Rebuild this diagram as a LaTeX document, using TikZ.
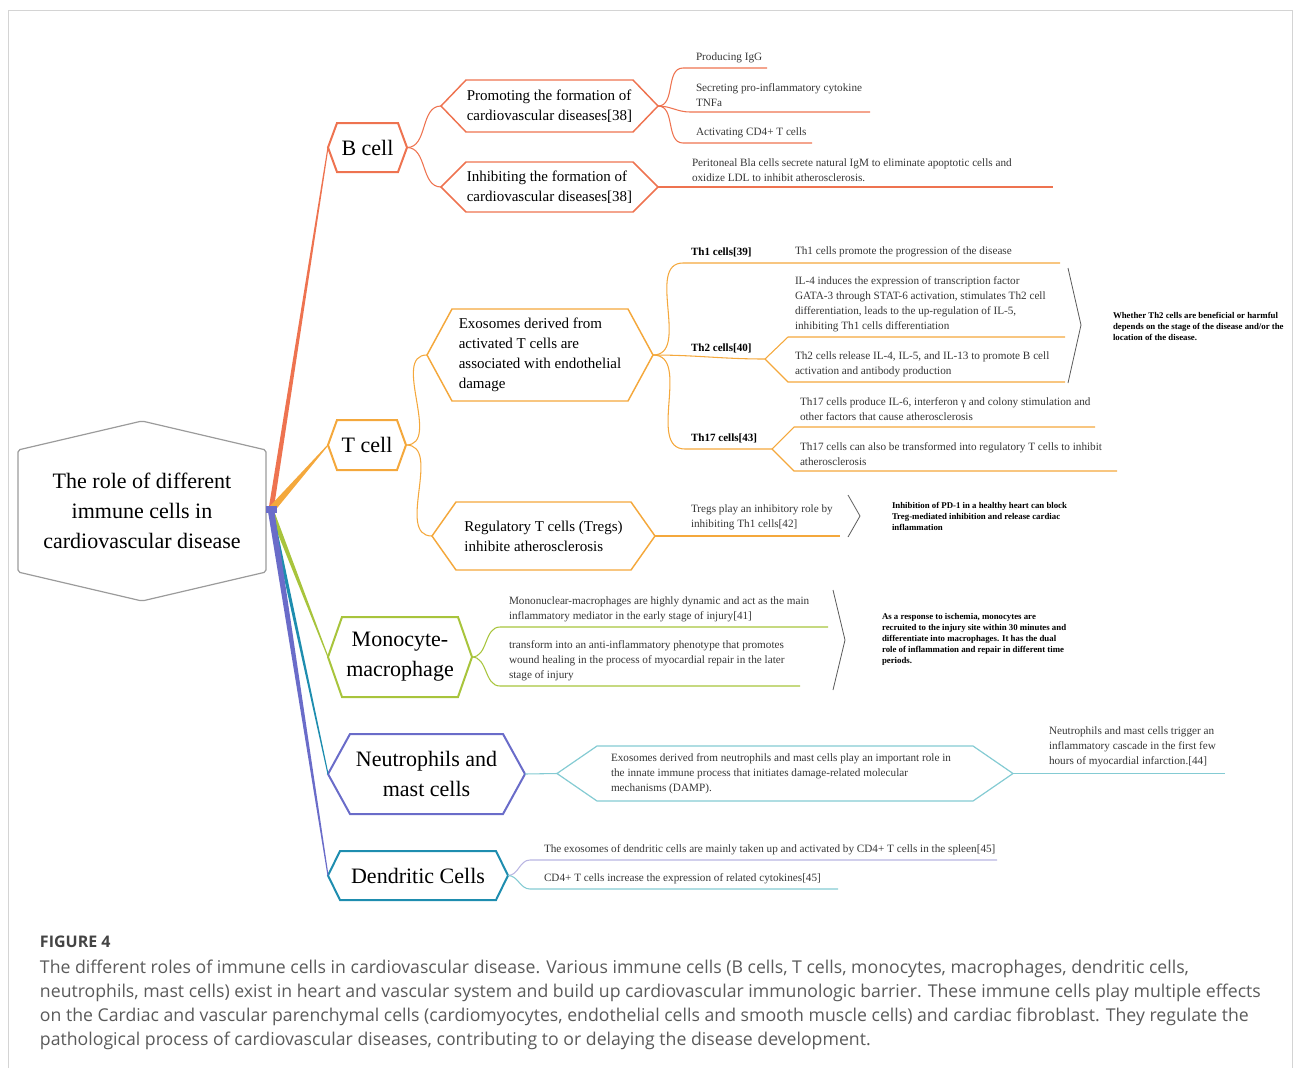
\documentclass[tikz,border=0pt]{standalone}
\usepackage{fontspec}
\setmainfont{Liberation Serif}
\newfontfamily\capfont{Open Sans}
\usetikzlibrary{calc}
\definecolor{cB}{HTML}{EE7350}
\definecolor{cT}{HTML}{F4A83C}
\definecolor{cM}{HTML}{A8C43C}
\definecolor{cN}{HTML}{6A6CC9}
\definecolor{cD}{HTML}{1E8DAF}
\definecolor{cNl}{HTML}{84CBD3}
\definecolor{cDl}{HTML}{B9B5E2}
\definecolor{cRoot}{HTML}{9B9B9B}
\definecolor{txt}{HTML}{363636}
\definecolor{framec}{HTML}{D4D4D4}
\definecolor{capc}{HTML}{5A5A5A}
\definecolor{capt}{HTML}{444444}
\newcommand{\hexdraw}[3]{\draw[#3] (#1.west) -- ([shift={(#2,0)}]#1.north west) -- ([shift={(-#2,0)}]#1.north east) -- (#1.east) -- ([shift={(-#2,0)}]#1.south east) -- ([shift={(#2,0)}]#1.south west) -- cycle;}
\newcommand{\taper}[4]{\fill[#4] ($(#1)!#3!90:(#2)$) -- ($(#2)!0.4pt!-90:(#1)$) -- ($(#2)!0.4pt!90:(#1)$) -- ($(#1)!#3!-90:(#2)$) -- cycle;}
\begin{document}
\begin{tikzpicture}[x=0.75pt,y=-0.75pt,
 every node/.style={inner sep=0pt, outer sep=0pt},
 hw/.style 2 args={minimum width=#1*0.75pt, minimum height=#2*0.75pt},
 lone/.style={font=\fontsize{16.5}{22.5}\selectfont, align=center, text=black},
 ltwo/.style={font=\fontsize{11.25}{15}\selectfont, align=left, text=black},
 lthree/.style={font=\fontsize{8.4}{11.2}\selectfont, align=left, text=txt, anchor=south west},
 lab/.style={font=\bfseries\fontsize{8.3}{10}\selectfont, text=black, anchor=south west},
 note/.style={font=\bfseries\fontsize{6.6}{8.25}\selectfont, align=left, text=black, anchor=west},
 hexone/.style={line width=1.5pt, line join=miter},
 hextwo/.style={line width=1.1pt, line join=miter},
 link/.style={line width=0.8pt},
 brace/.style={draw=black!65, line width=0.6pt},
]
\useasboundingbox (0,0) rectangle (1293,1068);
\draw[framec, line width=0.75pt] (8,1068) -- (8,10) -- (1292,10) -- (1292,1068);

% root
\node[lone, hw={248}{180}] (root) at (142,511) {The role of different\\immune cells in\\cardiovascular disease};
\draw[cRoot, line width=0.9pt, rounded corners=1.5pt] (root.north) -- ([shift={(0,29)}]root.north east) -- ([shift={(0,-29)}]root.south east) -- (root.south) -- ([shift={(0,-29)}]root.south west) -- ([shift={(0,29)}]root.north west) -- cycle;
\coordinate (hub) at (271,510);

% level 1
\node[lone, hw={79}{49}] (bcell) at (367.5,147.5) {B cell};
\node[lone, hw={78}{50}] (tcell) at (367,445) {T cell};
\node[lone, hw={144}{80}] (mono) at (400,657) {Monocyte-\\macrophage};
\node[lone, hw={197}{80}] (neut) at (426.5,774) {Neutrophils and\\mast cells};
\node[lone, hw={180}{49}] (dend) at (418,875.5) {Dendritic Cells};
\hexdraw{bcell}{9}{cB,hexone}
\hexdraw{tcell}{9}{cT,hexone}
\hexdraw{mono}{14}{cM,hexone}
\hexdraw{neut}{22}{cN,hexone}
\hexdraw{dend}{12}{cD,hexone}

% tapered main connectors
\taper{hub}{bcell.west}{1.9pt}{cB}
\taper{hub}{tcell.west}{2.6pt}{cT}
\taper{hub}{mono.west}{1.9pt}{cM}
\taper{hub}{neut.west}{1.5pt}{cD}
\taper{hub}{dend.west}{2.4pt}{cN}
\fill[cN] (266,506) rectangle (277,513);

% ---------------- B cell branch
\node[ltwo, hw={217}{52}] (prom) at (549.5,106) {Promoting the formation of\\cardiovascular diseases[38]};
\node[ltwo, hw={217}{50}] (inh) at (549.5,187) {Inhibiting the formation of\\cardiovascular diseases[38]};
\hexdraw{prom}{25}{cB,hextwo}
\hexdraw{inh}{25}{cB,hextwo}
\draw[cB,link] (bcell.east) to[out=0,in=180] (prom.west);
\draw[cB,link] (bcell.east) to[out=0,in=180] (inh.west);

\coordinate (b1s) at (683,68); \coordinate (b1e) at (767,68);
\coordinate (b2s) at (690,112); \coordinate (b2e) at (870,112);
\coordinate (b3s) at (683,143); \coordinate (b3e) at (812,143);
\coordinate (b4e) at (1053,187);
\draw[cB,link] (prom.east) to[out=0,in=180] (b1s) -- (b1e);
\draw[cB,link] (prom.east) to[out=0,in=180] (b2s) -- (b2e);
\draw[cB,link] (prom.east) to[out=0,in=180] (b3s) -- (b3e);
\draw[cB,link] (inh.east) -- (b4e);
\node[lthree] (b1t) at (696,63) {Producing IgG};
\node[lthree] (b2t) at (696,107) {Secreting pro-inflammatory cytokine\\TNFa};
\node[lthree] (b3t) at (696,138) {Activating CD4+ T cells};
\node[lthree] (b4t) at (692,182) {Peritoneal Bla cells secrete natural IgM to eliminate apoptotic cells and\\oxidize LDL to inhibit atherosclerosis.};

% ---------------- T cell branch
\node[ltwo, hw={226}{92}] (exo) at (540,355) {Exosomes derived from\\activated T cells are\\associated with endothelial\\damage};
\node[ltwo, hw={223}{68}] (treg) at (543.5,536) {Regulatory T cells (Tregs)\\inhibite atherosclerosis};
\hexdraw{exo}{25}{cT,hextwo}
\hexdraw{treg}{24}{cT,hextwo}
\draw[cT,link] (tcell.east) to[out=0,in=180] (exo.west);
\draw[cT,link] (tcell.east) to[out=0,in=180] (treg.west);

% Th1
\coordinate (h1s) at (683,263); \coordinate (h1e) at (1060,263);
\draw[cT,link] (exo.east) to[out=0,in=180] (h1s) -- (h1e);
\node[lab] (h1l) at (691,257) {Th1 cells[39]};
\node[lthree] (h1t) at (795,257) {Th1 cells promote the progression of the disease};
% Th2
\coordinate (h2m) at (765,359);
\coordinate (h2as) at (788,337); \coordinate (h2ae) at (1065,337);
\coordinate (h2bs) at (788,382); \coordinate (h2be) at (1065,382);
\draw[cT,link] (exo.east) to[out=0,in=180] (h2m);
\draw[cT,link] (h2m) -- (h2as) -- (h2ae);
\draw[cT,link] (h2m) -- (h2bs) -- (h2be);
\node[lab] (h2l) at (691,353) {Th2 cells[40]};
\node[lthree] (h2at) at (795,332) {IL-4 induces the expression of transcription factor\\GATA-3 through STAT-6 activation, stimulates Th2 cell\\differentiation, leads to the up-regulation of IL-5,\\inhibiting Th1 cells differentiation};
\node[lthree] (h2bt) at (795,377) {Th2 cells release IL-4, IL-5, and IL-13 to promote B cell\\activation and antibody production};
% Th17
\coordinate (h3s) at (685,449); \coordinate (h3m) at (772,449);
\coordinate (h3as) at (794,427); \coordinate (h3ae) at (1095,427);
\coordinate (h3bs) at (794,471); \coordinate (h3be) at (1117,471);
\draw[cT,link] (exo.east) to[out=0,in=180] (h3s) -- (h3m);
\draw[cT,link] (h3m) -- (h3as) -- (h3ae);
\draw[cT,link] (h3m) -- (h3bs) -- (h3be);
\node[lab] (h3l) at (691,443) {Th17 cells[43]};
\node[lthree] (h3at) at (800,421) {Th17 cells produce IL-6, interferon γ and colony stimulation and\\other factors that cause atherosclerosis};
\node[lthree] (h3bt) at (800,466) {Th17 cells can also be transformed into regulatory T cells to inhibit\\atherosclerosis};
% Th2 brace and note
\draw[brace] (1068,268) -- (1081,325) -- (1068,383);
\node[note] (nTh2) at (1113,326) {Whether Th2 cells are beneficial or harmful\\depends on the stage of the disease and/or the\\location of the disease.};

% Tregs
\coordinate (t4e) at (840,536);
\draw[cT,link] (treg.east) -- (t4e);
\node[lthree] (t4t) at (691,530) {Tregs play an inhibitory role by\\inhibiting Th1 cells[42]};
\draw[brace] (848,495) -- (860,516) -- (848,537);
\node[note] (nTreg) at (892,516) {Inhibition of PD-1 in a healthy heart can block\\Treg-mediated inhibition and release cardiac\\inflammation};

% ---------------- Monocyte branch
\coordinate (m1s) at (500,627); \coordinate (m1e) at (828,627);
\coordinate (m2s) at (500,686); \coordinate (m2e) at (800,686);
\draw[cM,link] (mono.east) to[out=0,in=180] (m1s) -- (m1e);
\draw[cM,link] (mono.east) to[out=0,in=180] (m2s) -- (m2e);
\node[lthree] (m1t) at (509,622) {Mononuclear-macrophages are highly dynamic and act as the main\\inflammatory mediator in the early stage of injury[41]};
\node[lthree] (m2t) at (509,681) {transform into an anti-inflammatory phenotype that promotes\\wound healing in the process of myocardial repair in the later\\stage of injury};
\draw[brace] (833,590) -- (845,640) -- (833,690);
\node[note] (nMono) at (882,639) {As a response to ischemia, monocytes are\\recruited to the injury site within 30 minutes and\\differentiate into macrophages. It has the dual\\role of inflammation and repair in different time\\periods.};

% ---------------- Neutrophils branch
\node[font=\fontsize{8.4}{11.2}\selectfont, align=left, text=txt, hw={456}{55}] (exoN) at (785,773.5) {Exosomes derived from neutrophils and mast cells play an important role in\hspace*{6pt}\\the innate immune process that initiates damage-related molecular\\mechanisms (DAMP).};
\hexdraw{exoN}{40}{cNl,line width=0.9pt}
\draw[cNl,link] (neut.east) -- (exoN.west);
\coordinate (n2e) at (1225,773.5);
\draw[cNl,link] (exoN.east) -- (n2e);
\node[lthree] (n2t) at (1049,767) {Neutrophils and mast cells trigger an\\inflammatory cascade in the first few\\hours of myocardial infarction.[44]};

% ---------------- Dendritic branch
\coordinate (d1s) at (530,860); \coordinate (d1e) at (997,860);
\coordinate (d2s) at (530,889); \coordinate (d2e) at (838,889);
\draw[cDl,link] (dend.east) to[out=0,in=180] (d1s) -- (d1e);
\draw[cNl,link] (dend.east) to[out=0,in=180] (d2s) -- (d2e);
\node[lthree] (d1t) at (544,855) {The exosomes of dendritic cells are mainly taken up and activated by CD4+ T cells in the spleen[45]};
\node[lthree] (d2t) at (544,884) {CD4+ T cells increase the expression of related cytokines[45]};

% ---------------- caption
\node[anchor=west, font=\capfont\bfseries\fontsize{12}{15}\selectfont, text=capt] (fig) at (40,942) {FIGURE 4};
\node[anchor=north west, font=\capfont\fontsize{13.25}{18}\selectfont, align=left, text=capc] (cap) at (40,960) {The different roles of immune cells in cardiovascular disease. Various immune cells (B cells, T cells, monocytes, macrophages, dendritic cells,\\neutrophils, mast cells) exist in heart and vascular system and build up cardiovascular immunologic barrier. These immune cells play multiple effects\\on the Cardiac and vascular parenchymal cells (cardiomyocytes, endothelial cells and smooth muscle cells) and cardiac fibroblast. They regulate the\\pathological process of cardiovascular diseases, contributing to or delaying the disease development.};
\end{tikzpicture}
\end{document}
